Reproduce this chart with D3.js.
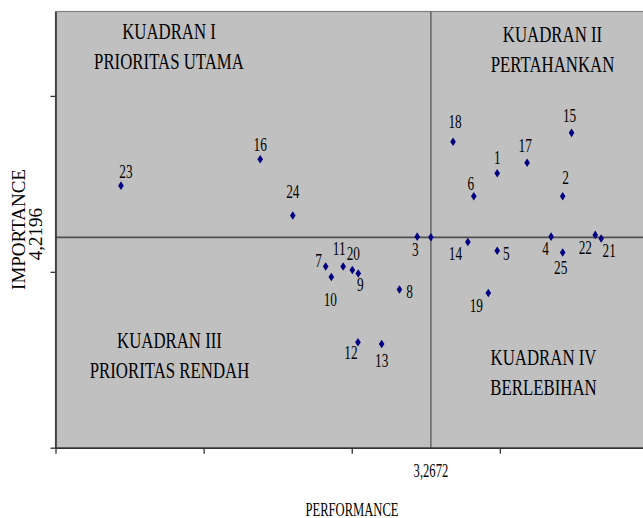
<!DOCTYPE html>
<html>
<head>
<meta charset="utf-8">
<script src="https://cdn.jsdelivr.net/npm/d3@7"></script>
<style>
body { margin: 0; background: #fff; }
text { font-family: "Liberation Serif", "Times New Roman", serif; fill: #000; }
</style>
</head>
<body>
<div id="chart"></div>
<script>
// data (performance vs importance)
var ids = [1,2,3,4,5,6,7,8,9,10,11,12,13,14,15,16,17,18,19,20,21,22,23,24,25];
var performance = [3.491,3.712,3.221,3.673,3.491,3.412,2.912,3.161,3.022,2.931,2.971,3.021,3.101,
                   3.392,3.742,2.691,3.592,3.342,3.461,3.002,3.842,3.822,2.221,2.801,3.712];
var importance  = [4.256,4.243,4.220,4.220,4.212,4.243,4.203,4.190,4.199,4.197,4.203,4.160,4.159,
                   4.217,4.279,4.264,4.262,4.274,4.188,4.201,4.219,4.221,4.249,4.232,4.211];
var meanPerformance = 3.2672,
    meanImportance = 4.2196;
var xTicks = [2, 2.5, 3, 3.5, 4];
var yTicks = [4.1, 4.2, 4.3];
var quadrantNames = [["KUADRAN I", "PRIORITAS UTAMA"], ["KUADRAN II", "PERTAHANKAN"],
                     ["KUADRAN III", "PRIORITAS RENDAH"], ["KUADRAN IV", "BERLEBIHAN"]];

// where each quadrant caption sits (px) and label nudges per point
var quadrantPos = [[169, 38.5], [552.5, 41.5], [169.5, 348], [543.5, 365]];
var labelOffset = {
  1:[0,-9], 2:[3,-12], 3:[-2,19], 4:[-5.5,18], 5:[9,9], 6:[-3,-6], 7:[-7,0], 8:[10,9],
  9:[2,17], 10:[-1,29], 11:[-4,-12], 12:[-7,17], 13:[0,23], 14:[-12.5,18], 15:[-2,-11],
  16:[0,-8], 17:[-2,-11], 18:[2,-14], 19:[-12,19], 20:[1,-10], 21:[8,19], 22:[-10,19],
  23:[5,-8], 24:[0,-18], 25:[-2,22]
};

var width = 643, height = 518;
var sx = 0.7; // text in the picture is squeezed sideways

var svg = d3.select("#chart").append("svg")
    .attr("width", width)
    .attr("height", height);

var x = d3.scaleLinear().domain([2, 4]).range([55.5, 648]);
var y = d3.scaleLinear().domain([4.1, 4.348]).range([447.7, 11.5]);

// plot background
svg.append("rect")
    .attr("x", x(2))
    .attr("y", y(4.348))
    .attr("width", x(4) - x(2))
    .attr("height", y(4.1) - y(4.348))
    .attr("fill", "#C0C0C0")
    .attr("stroke", "#808080")
    .attr("stroke-width", 1.2);

// quadrant lines
svg.append("line")
    .attr("x1", x(meanPerformance)).attr("x2", x(meanPerformance))
    .attr("y1", y(4.348)).attr("y2", y(4.1))
    .attr("stroke", "#505050").attr("stroke-width", 1.2);
svg.append("line")
    .attr("x1", x(2)).attr("x2", x(4))
    .attr("y1", y(meanImportance)).attr("y2", y(meanImportance))
    .attr("stroke", "#505050").attr("stroke-width", 1.6);

// axes, no tick labels
var xAxis = svg.append("g")
    .attr("transform", "translate(0," + y(4.1) + ")")
    .call(d3.axisBottom(x).tickValues(xTicks).tickSize(6).tickSizeOuter(0).tickFormat(""));
var yAxis = svg.append("g")
    .attr("transform", "translate(" + x(2) + ",0)")
    .call(d3.axisLeft(y).tickValues(yTicks).tickSize(5).tickSizeOuter(0).tickFormat(""));
[xAxis, yAxis].forEach(function(a){
  a.select(".domain").attr("stroke", "#333").attr("stroke-width", 1.6);
  a.selectAll(".tick line").attr("stroke", "#333").attr("stroke-width", 1.3);
});

function squeezed(px, py, str, size) {
  svg.append("g")
      .attr("transform", "translate(" + px + "," + py + ") scale(" + sx + ",1)")
    .append("text")
      .attr("text-anchor", "middle")
      .attr("font-size", size)
      .text(str);
}

// quadrant captions
quadrantNames.forEach(function(q, i){
  squeezed(quadrantPos[i][0], quadrantPos[i][1], q[0], 24);
  squeezed(quadrantPos[i][0], quadrantPos[i][1] + 30, q[1], 24);
});

// points
var pts = ids.map(function(d, i){ return {id: d, px: performance[i], py: importance[i]}; });

svg.selectAll("path.pt")
    .data(pts.concat([{id: null, px: meanPerformance, py: meanImportance}]))
    .enter().append("path")
    .attr("class", "pt")
    .attr("d", d3.symbol().type(d3.symbolDiamond).size(21))
    .attr("fill", "#000080")
    .attr("transform", function(d){ return "translate(" + x(d.px) + "," + y(d.py) + ") scale(1.15,1)"; });

pts.forEach(function(d){
  var o = labelOffset[d.id];
  squeezed(x(d.px) + o[0], y(d.py) + o[1], d.id, 19);
});

// axis titles
squeezed(x(meanPerformance), 477, "3,2672", 18);
squeezed(352, 516, "PERFORMANCE", 18);

svg.append("text")
    .attr("transform", "translate(24.5,229.5) rotate(-90)")
    .attr("text-anchor", "middle")
    .attr("font-size", 19)
    .text("IMPORTANCE");
svg.append("text")
    .attr("transform", "translate(42,234) rotate(-90)")
    .attr("text-anchor", "middle")
    .attr("font-size", 19)
    .text("4,2196");
</script>
</body>
</html>
